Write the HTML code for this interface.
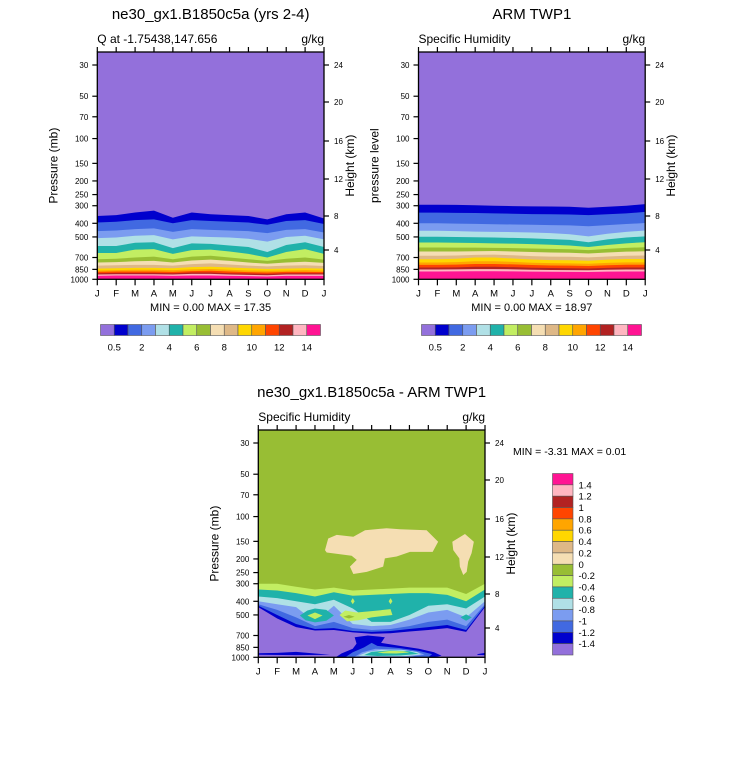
<!DOCTYPE html>
<html><head><meta charset="utf-8">
<style>
html,body{margin:0;padding:0;background:#fff;}
svg{display:block;font-family:"Liberation Sans",Arial,sans-serif;}
</style></head>
<body>
<svg id="chart" width="733" height="768" viewBox="0 0 733 768" xmlns="http://www.w3.org/2000/svg"></svg>
<script>
// ---------- data ----------
const months = ["J","F","M","A","M","J","J","A","S","O","N","D","J"];
const pressureTicks = [30,50,70,100,150,200,250,300,400,500,700,850,1000];
const heightTicks = [24,20,16,12,8,4];
const qLevels = [0.5,1,2,3,4,5,6,7,8,9,10,11,12,13,14];
const qLabels = ["0.5","2","4","6","8","10","12","14"];
const diffLabels = ["1.4","1.2","1","0.8","0.6","0.4","0.2","0","-0.2","-0.4","-0.6","-0.8","-1","-1.2","-1.4"];
// model: pressure (mb) where q crosses each level, per month
const modelB = [
[355,350,335,325,365,335,345,350,355,375,345,335,370],
[395,390,380,375,400,380,385,390,395,410,385,380,405],
[455,450,440,435,460,440,445,450,455,470,445,440,465],
[510,505,490,485,520,495,500,505,515,540,500,490,520],
[580,580,550,545,600,555,560,575,590,640,570,545,590],
[650,650,615,610,660,620,615,635,660,700,640,610,660],
[720,715,700,690,720,690,680,700,720,740,715,700,725],
[760,755,745,740,760,735,725,740,760,775,760,750,765],
[800,795,790,790,800,780,770,785,800,810,800,795,805],
[840,835,830,830,835,820,815,825,835,845,840,835,840],
[865,860,855,855,860,850,845,855,865,870,865,860,865],
[885,880,880,880,885,875,870,880,890,895,885,885,890],
[905,900,900,900,905,895,895,905,910,915,905,905,905],
[925,920,920,920,925,915,915,925,930,935,925,925,925],
[945,940,940,940,945,940,940,945,950,955,945,945,945]];
// ARM obs
const armB = [
[295,295,296,298,300,302,303,304,305,310,305,300,292],
[336,336,337,338,340,342,344,345,346,350,345,340,332],
[400,400,402,404,406,408,410,412,414,420,412,405,398],
[452,452,455,458,460,462,465,470,478,495,475,460,450],
[498,498,500,503,505,508,512,518,525,545,520,505,495],
[548,548,550,552,555,558,562,568,575,590,570,555,545],
[594,594,595,596,598,600,604,608,612,620,608,598,592],
[634,634,635,632,630,634,640,645,648,655,645,636,632],
[680,680,678,670,668,675,684,690,692,698,688,680,678],
[720,720,715,700,700,712,724,730,732,738,725,718,718],
[760,760,755,745,745,752,762,768,770,775,765,758,758],
[790,790,786,778,778,784,792,798,800,805,795,788,788],
[825,825,822,815,815,820,828,832,834,838,830,824,824],
[852,852,850,846,846,850,855,858,860,862,856,852,852],
[880,880,878,876,876,878,882,884,886,888,882,880,880]];
// difference: boundaries for -0.2 ... -1.4
const diffB = [
[300,300,315,330,320,335,330,325,320,320,320,355,300],
[330,335,350,370,345,365,360,355,350,350,360,400,330],
[370,380,400,420,390,450,560,560,500,430,420,450,370],
[400,420,440,560,430,580,600,590,540,480,460,520,400],
[420,460,520,600,560,620,640,630,600,560,540,600,420],
[430,500,580,630,620,650,660,650,630,610,590,640,430],
[440,530,610,645,640,665,680,675,655,640,620,660,440]];
// blobs: [month, pressure] points
const wheatBlob1M = [3.53,3.70,4.15,5.03,5.65,6.79,7.50,8.91,9.52,9.23,8.03,7.32,6.70,6.61,5.74,5.03,4.85,5.21,4.94,3.62];
const wheatBlob1P = [173,143,135,139,125,121,123,125,151,178,178,192,198,227,247,256,227,203,190,180];
const wheatBlob2M = [10.27,10.94,11.41,11.29,11.11,11.03,10.85,10.67,10.64,10.32];
const wheatBlob2P = [151,133,151,182,209,247,260,227,198,173];
const bumpDarkM = [4.1,4.4,5,5.2,5.1,5.8,6.7,6.5,7.5,8.5,9.3,9.7,9.3];
const bumpDarkP = [1000,940,870,800,720,700,720,790,830,870,920,975,1000];
const bumpRoyalM = [4.6,5,5.6,6,6.3,7.5,8.5,9.2,9];
const bumpRoyalP = [1000,920,850,790,830,860,900,950,1000];
const bumpCornM = [5.1,5.5,6.2,7.5,8.5,8.8,8];
const bumpCornP = [990,920,870,880,920,960,990];
const bumpPowderM = [5.3,5.8,6.5,7.6,8.4,8.6,7.8,6.2];
const bumpPowderP = [975,915,885,885,915,955,980,985];
const bumpTealM = [5.6,6,7,8,8.5,7.5,6.3];
const bumpTealP = [965,915,892,905,945,972,978];
const bumpGyM = [6.3,7,7.7,8,7.3,6.6];
const bumpGyP = [920,900,905,925,940,935];
const stripLeftM = [0,1,2,3,3.8,2,0];
const stripLeftP = [935,930,915,940,960,965,960];
const stripRightM = [11.6,12,12,11.6];
const stripRightP = [950,930,965,962];
const islandTealM = [2.2,2.6,3.0,3.6,4.0,3.6,3.0,2.5];
const islandTealP = [505,465,450,460,505,550,565,545];
const islandGyAM = [2.6,3.0,3.4,3.0];
const islandGyAP = [505,480,505,535];
const islandGyJM = [4.3,4.6,5.2,6,7,7.1,6,5.3,4.7];
const islandGyJP = [500,465,480,470,455,500,520,545,555];
const islandYgJM = [4.5,4.8,5.1,4.8];
const islandYgJP = [515,500,515,530];
const islandTealDM = [10.7,11,11.3,11];
const islandTealDP = [520,495,520,550];
const dotGy1M = [4.9,5.0,5.1,5.0];
const dotGy1P = [400,380,400,420];
const dotGy2M = [6.9,7.0,7.1,7.0];
const dotGy2P = [400,380,400,420];

// ---------- styling ----------
const qColors = ["#9370DB","#0000CD","#4169E1","#7B9CF0","#B0E0E6","#20B2AA","#C2EE62","#98BE34","#F5DEB3","#DEB887","#FFD700","#FFA500","#FF4500","#B22222","#FFB6C1","#FF1493"];
const diffColors = qColors.slice().reverse();
const PW = 226.7, PH = 227.3;
const NS = "http://www.w3.org/2000/svg";
const svg = document.getElementById("chart");

function el(tag, attrs, parent){
  const e = document.createElementNS(NS, tag);
  for (const k in attrs) e.setAttribute(k, attrs[k]);
  (parent||svg).appendChild(e);
  return e;
}
function txt(s, x, y, size, anchor, parent, name, extra){
  const t = el("text", Object.assign({x:x, y:y, "font-size":size, "text-anchor":anchor||"middle", fill:"#000"}, extra||{}), parent);
  t.textContent = s;
  
  
  return t;
}
function makeScales(x0, top){
  const lo = Math.log10(30), span = Math.log10(1000) - lo;
  return {
    x: m => x0 + m * PW / 12,
    y: p => top + 13 + (Math.log10(p) - lo) / span * 214.3
  };
}
function polyFromBoundary(sc, b){
  let pts = [];
  for (let i=0;i<b.length;i++) pts.push(sc.x(i).toFixed(2)+","+sc.y(b[i]).toFixed(2));
  pts.push(sc.x(12)+","+sc.y(1100)); pts.push(sc.x(0)+","+sc.y(1100));
  return pts.join(" ");
}
function polyFromPts(sc, ms, ps){
  return ms.map((m,i)=>sc.x(m).toFixed(2)+","+sc.y(ps[i]).toFixed(2)).join(" ");
}

function drawPlot(x0, top, opts){
  const sc = makeScales(x0, top);
  const g = el("g", {});
  
  
  const cp = el("clipPath", {id:"clip-"+opts.name}, g);
  el("rect", {x:x0, y:top, width:PW, height:PH}, cp);
  const fillG = el("g", {"clip-path":"url(#clip-"+opts.name+")"}, g);
  
  
  const bg = el("rect", {x:x0, y:top, width:PW, height:PH, fill:opts.bg}, fillG);
  
  
  opts.bands.forEach((b, i) => {
    const p = el("polygon", {points:polyFromBoundary(sc, b), fill:opts.bandColors[i]}, fillG);
    
    
  });
  (opts.shapes||[]).forEach(s => {
    const p = el("polygon", {points:polyFromPts(sc, s[0], s[1]), fill:s[2]}, fillG);
    
    
  });
  const fr = el("rect", {x:x0, y:top, width:PW, height:PH, fill:"none", stroke:"#000", "stroke-width":1.3}, g);
  
  
  const bot = top + PH;
  months.forEach((m,i) => {
    const x = sc.x(i);
    el("line", {x1:x, x2:x, y1:top, y2:top-5, stroke:"#000", "stroke-width":1.2}, g);
    el("line", {x1:x, x2:x, y1:bot, y2:bot+6, stroke:"#000", "stroke-width":1.2}, g);
    txt(m, x, bot+17, 9.5, "middle", g, "month-label");
  });
  pressureTicks.forEach(p => {
    const y = sc.y(p);
    el("line", {x1:x0, x2:x0-5, y1:y, y2:y, stroke:"#000", "stroke-width":1.2}, g);
    txt(String(p), x0-9, y+3, 8, "end", g, "pressure-tick-label");
  });
  const hOff = [13,50,89,127,164,198];
  heightTicks.forEach((h,i) => {
    const y = top + hOff[i];
    el("line", {x1:x0+PW, x2:x0+PW+5, y1:y, y2:y, stroke:"#000", "stroke-width":1.2}, g);
    txt(String(h), x0+PW+10, y+3, 8, "start", g, "height-tick-label");
  });
  const cy = top + PH/2;
  txt(opts.yTitle, x0-40, cy, 12, "middle", g, "y-axis-title", {transform:"rotate(-90 "+(x0-40)+" "+cy+")"});
  txt("Height (km)", x0+PW+30, cy, 12, "middle", g, "right-axis-title", {transform:"rotate(-90 "+(x0+PW+30)+" "+cy+")"});
  txt(opts.title, x0+PW/2, top-33, 15, "middle", g, "plot-title");
  txt(opts.sub, x0, top-9, 12, "start", g, "plot-subtitle");
  txt("g/kg", x0+PW, top-9, 12, "end", g, "units-label");
  return g;
}

function hLegend(x0, y0){
  const g = el("g", {});
  
  
  const w = 220/16;
  qColors.forEach((c,i) => {
    const r = el("rect", {x:x0+i*w, y:y0, width:w, height:11, fill:c, stroke:"#555", "stroke-width":0.6}, g);
    
    
  });
  qLabels.forEach((l,i) => txt(l, x0+(1+2*i)*w, y0+26, 9.5, "middle", g, "legend-label"));
}

drawPlot(97.3, 52, {name:"model-plot", bg:qColors[0], bands:modelB, bandColors:qColors.slice(1),
  yTitle:"Pressure (mb)", title:"ne30_gx1.B1850c5a (yrs 2-4)", sub:"Q at -1.75438,147.656"});
txt("MIN =   0.00 MAX =  17.35", 210.6, 311, 11, "middle", null, "model-min-max", {"xml:space":"preserve"});
hLegend(100.5, 324.5);
drawPlot(418.5, 52, {name:"arm-plot", bg:qColors[0], bands:armB, bandColors:qColors.slice(1),
  yTitle:"pressure level", title:"ARM TWP1", sub:"Specific Humidity"});
txt("MIN =   0.00 MAX =  18.97", 531.8, 311, 11, "middle", null, "arm-min-max", {"xml:space":"preserve"});
hLegend(421.5, 324.5);
const dc = diffColors;
drawPlot(258.3, 430, {name:"difference-plot", bg:dc[8], bands:diffB, bandColors:[dc[9],dc[10],dc[11],dc[12],dc[13],dc[14],dc[15]],
  yTitle:"Pressure (mb)", title:"ne30_gx1.B1850c5a - ARM TWP1", sub:"Specific Humidity",
  shapes:[
    [wheatBlob1M, wheatBlob1P, dc[7]],
    [wheatBlob2M, wheatBlob2P, dc[7]],
    [islandTealM, islandTealP, dc[10]],
    [islandGyAM, islandGyAP, dc[9]],
    [islandGyJM, islandGyJP, dc[9]],
    [islandYgJM, islandYgJP, dc[8]],
    [islandTealDM, islandTealDP, dc[10]],
    [dotGy1M, dotGy1P, dc[9]],
    [dotGy2M, dotGy2P, dc[9]],
    [stripLeftM, stripLeftP, dc[14]],
    [stripRightM, stripRightP, dc[14]],
    [bumpDarkM, bumpDarkP, dc[14]],
    [bumpRoyalM, bumpRoyalP, dc[13]],
    [bumpCornM, bumpCornP, dc[12]],
    [bumpPowderM, bumpPowderP, dc[11]],
    [bumpTealM, bumpTealP, dc[10]],
    [bumpGyM, bumpGyP, dc[9]]
  ]});
txt("MIN =  -3.31 MAX =   0.01", 513, 455, 10.5, "start", null, "diff-min-max", {"xml:space":"preserve"});
(function(){
  const g = el("g", {});
  
  
  const x0 = 552.5, y0 = 473.5, h = 181.5/16;
  diffColors.forEach((c,i) => {
    const r = el("rect", {x:x0, y:y0+i*h, width:20.5, height:h, fill:c, stroke:"#555", "stroke-width":0.6}, g);
    
    
  });
  diffLabels.forEach((l,i) => txt(l, x0+26, y0+(i+1)*h+3.5, 9.5, "start", g, "legend-label"));
})();
</script>
</body></html>
